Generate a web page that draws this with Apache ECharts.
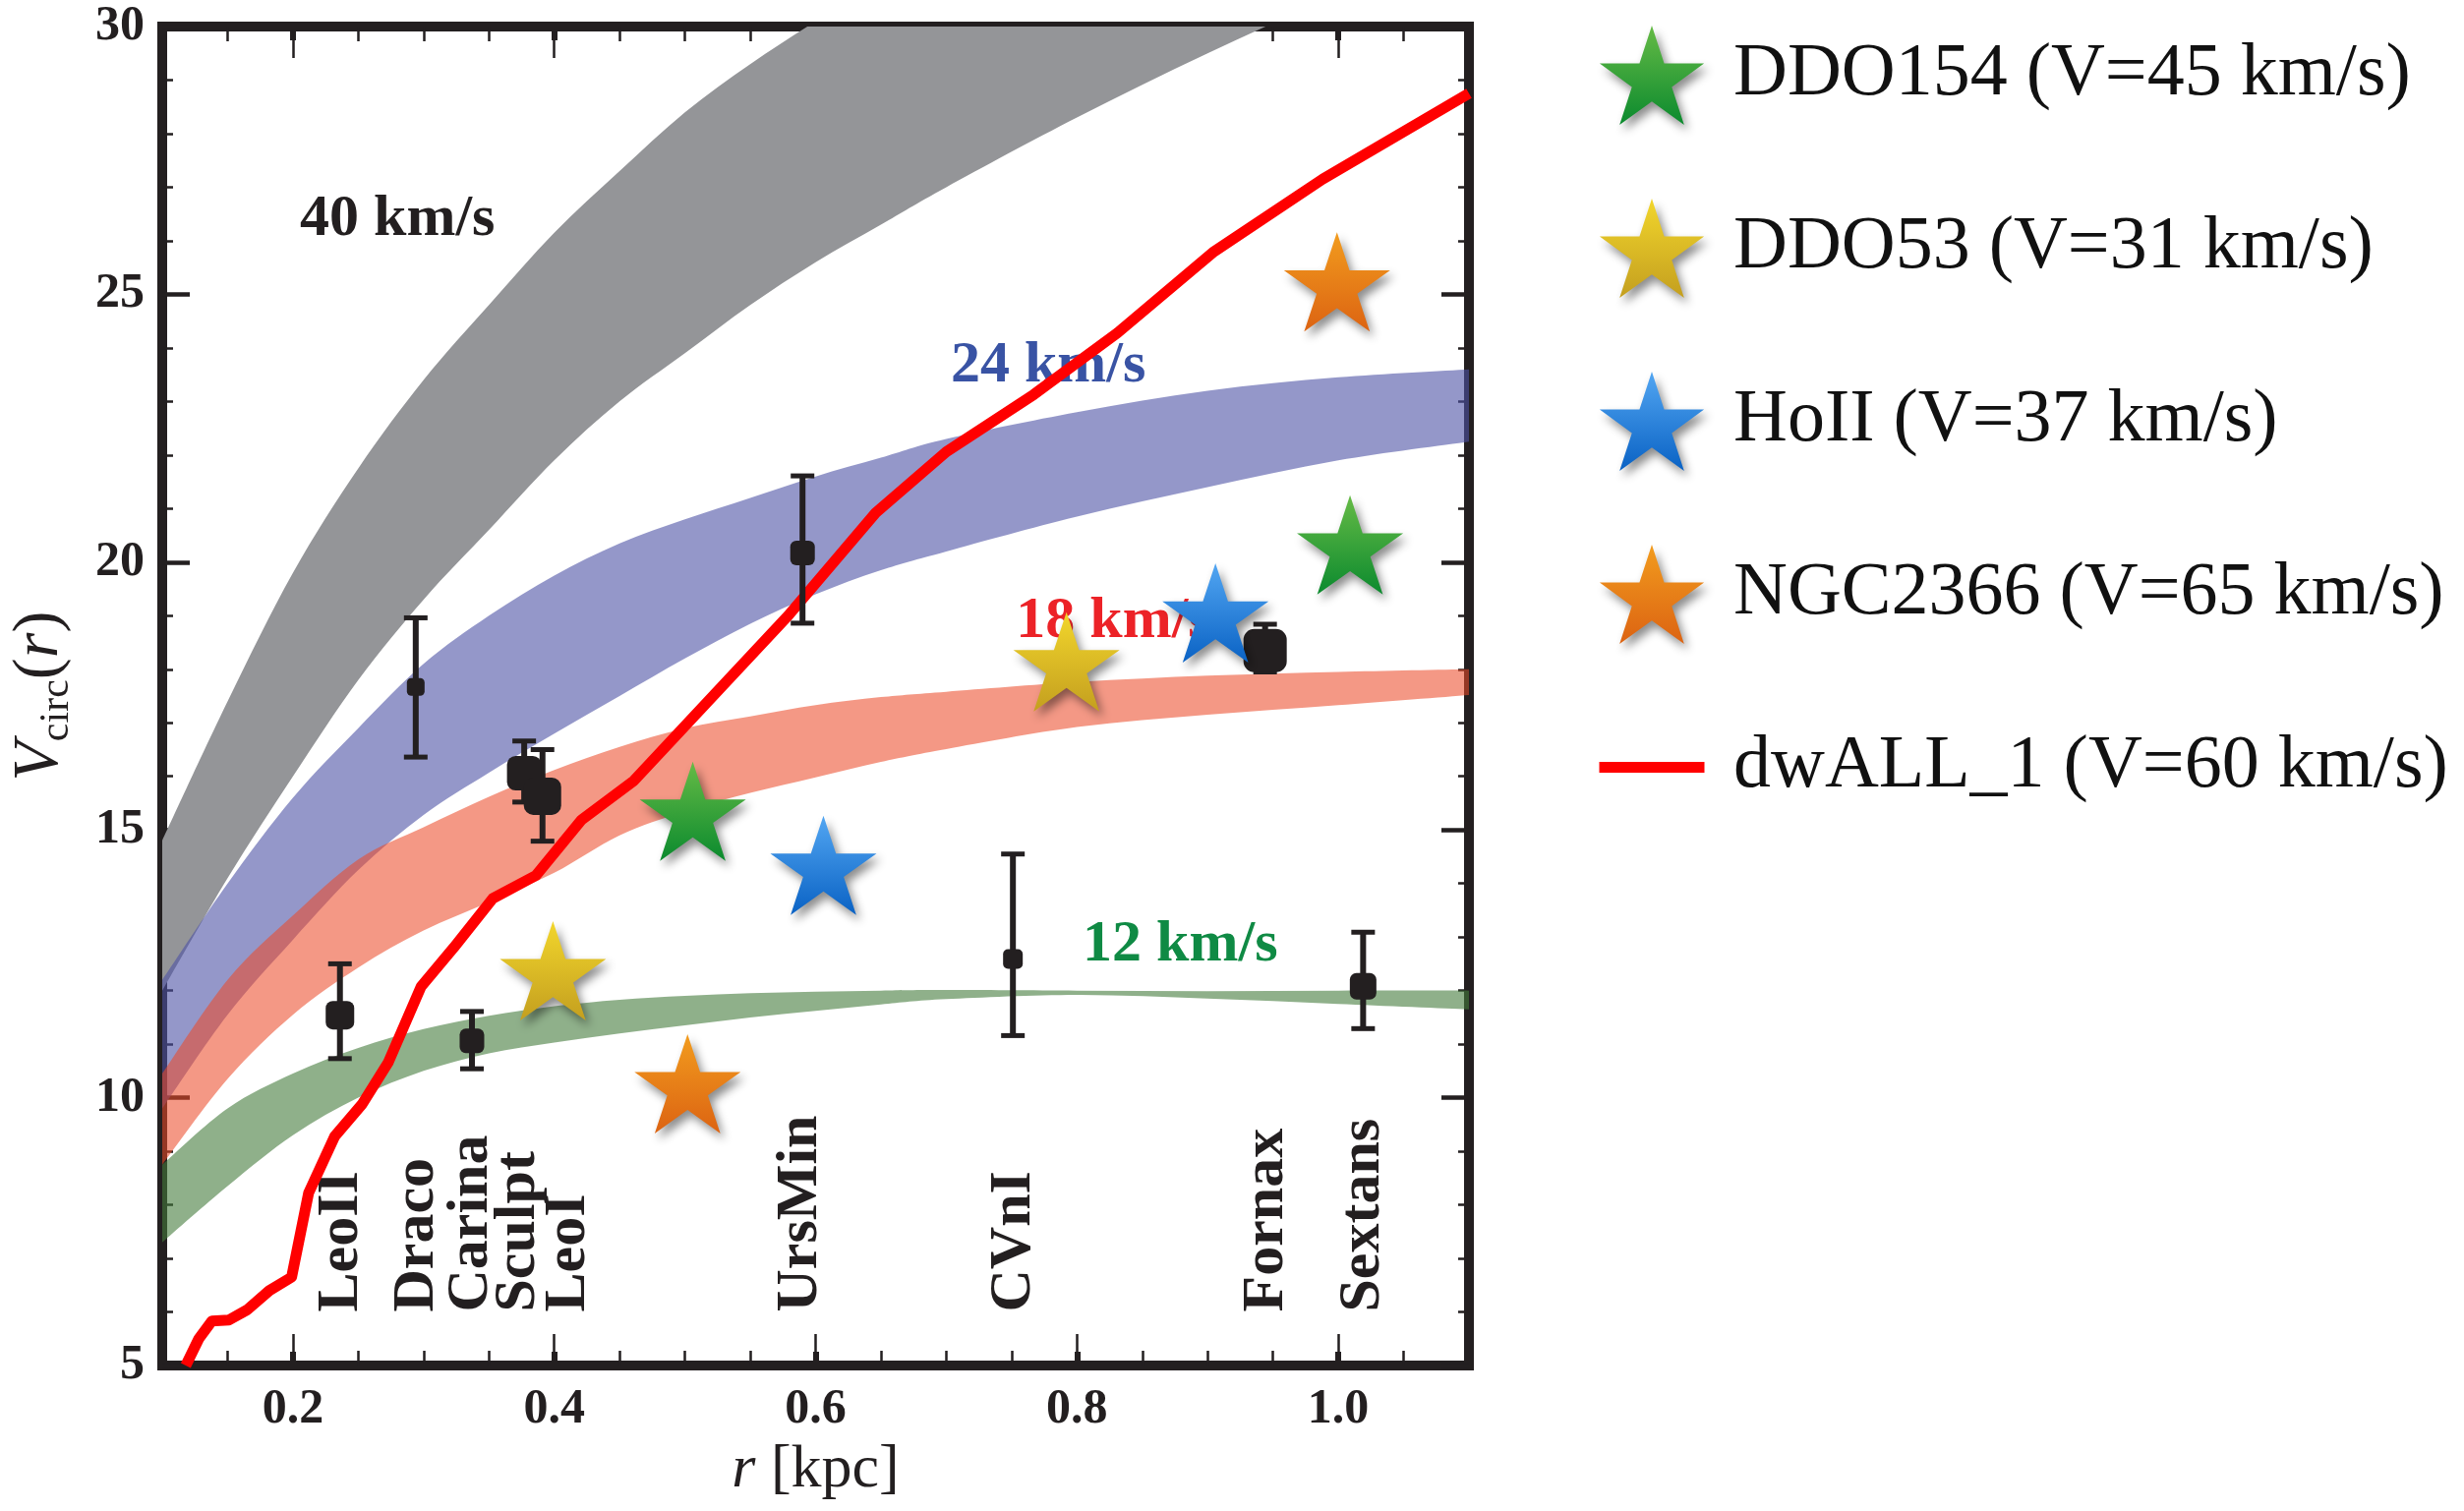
<!DOCTYPE html>
<html>
<head>
<meta charset="utf-8">
<script src="https://cdn.jsdelivr.net/npm/echarts@6/dist/echarts.min.js"></script>
<style>html,body{margin:0;padding:0;background:#fff;}#chart{width:2506px;height:1537px;}</style>
</head>
<body>
<div id="chart"></div>
<script>
// ================= DATA =================
// shaded bands: r [kpc] grid and lower/upper V_circ edges
const bandR   = [0.10,0.15,0.20,0.25,0.30,0.35,0.40,0.45,0.50,0.55,0.60,0.65,0.70,0.80,0.90,1.00,1.10];
const v40Lo   = [12.0,14.1,16.0,17.8,19.3,20.6,21.9,23.0,23.9,24.8,25.6,26.3,27.0,28.3,29.5,30.6,31.6];
const v40Hi   = [14.8,17.4,19.8,21.75,23.4,24.8,26.15,27.3,28.4,29.3,30.1,30.9,31.6,33.0,34.2,35.3,36.3];
const v24Lo   = [9.8,11.55,12.95,14.25,15.28,16.07,16.8,17.5,18.2,18.85,19.4,19.85,20.2,20.85,21.4,21.9,22.25];
const v24Hi   = [12.2,14.0,15.6,16.9,18.1,19.0,19.75,20.35,20.8,21.2,21.6,21.95,22.3,22.8,23.2,23.45,23.6];
const v18Lo   = [8.75,10.35,11.55,12.43,13.12,13.65,14.2,14.9,15.35,15.69,15.98,16.27,16.51,16.92,17.15,17.33,17.52];
const v18Hi   = [10.45,12.2,13.4,14.45,15.05,15.62,16.12,16.55,16.9,17.12,17.33,17.48,17.58,17.76,17.88,17.95,18.0];
const v12Lo   = [7.3,8.35,9.3,10.0,10.5,10.83,11.03,11.2,11.35,11.5,11.62,11.74,11.84,11.92,11.85,11.75,11.65];
const v12Hi   = [8.75,9.8,10.45,10.93,11.28,11.53,11.71,11.83,11.9,11.95,11.98,12.0,12.01,12.0,11.99,12.0,12.0];

// simulated dwarf curve dwALL_1
const curveR = [0.118,0.128,0.138,0.151,0.165,0.182,0.199,0.212,0.232,0.253,0.273,0.298,0.323,0.353,0.386,0.421,0.461,0.503,0.579,0.646,0.700,0.767,0.831,0.905,0.988,1.100];
const curveV = [5.0,5.5,5.83,5.85,6.04,6.4,6.65,8.22,9.28,9.88,10.66,12.07,12.8,13.72,14.15,15.19,15.92,17.02,19.0,20.92,22.06,23.13,24.28,25.8,27.15,28.75];

// Milky Way dwarf spheroidals with error bars
const galNames = ['LeoII','Draco','Carina','Sculpt','LeoI','UrsMin','CVnI','Fornax','Sextans'];
const galR     = [0.236,0.294,0.337,0.377,0.391,0.590,0.751,0.944,1.019];
const galV     = [11.54,17.67,11.06,16.06,15.63,20.17,12.59,18.35,12.08];
const galVlo   = [10.73,16.36,10.54,15.52,14.79,18.86,11.16,17.95,11.29];
const galVhi   = [12.50,18.96,11.61,16.66,16.50,21.61,14.55,18.84,13.09];
const galLabelR = [0.237,0.295,0.337,0.373,0.411,0.589,0.752,0.945,1.019];
const galLabelV = 6.0;

// field dwarfs (stars)
const ddo154R  = [0.506,1.009];  const ddo154V  = [15.35,20.32];
const ddo53R   = [0.399,0.792];  const ddo53V   = [12.37,18.14];
const hoIIR    = [0.606,0.906];  const hoIIV    = [14.34,19.05];
const ngc2366R = [0.502,0.999];  const ngc2366V = [10.26,25.23];

const legendNames = ['DDO154 (V=45 km/s)','DDO53 (V=31 km/s)','HoII (V=37 km/s)','NGC2366 (V=65 km/s)','dwALL_1 (V=60 km/s)'];

// band annotations
const annotText = ['40 km/s','24 km/s','18 km/s','12 km/s'];
const annotR    = [0.205,0.703,0.753,0.804];
const annotV    = [26.4,23.66,18.89,12.85];

// axis ticks
const xMajorTicks = [0.2,0.4,0.6,0.8,1.0];
const xMinorTicks = [0.15,0.25,0.3,0.35,0.45,0.5,0.55,0.65,0.7,0.75,0.85,0.9,0.95,1.05];

// ================= STYLE =================
const INK = '#231f20';
const SERIF = "'Liberation Serif','Times New Roman',serif";
const STAR = 'path://M50,0L61.23,34.55L97.55,34.55L68.17,55.9L79.39,90.45L50,69.1L20.61,90.45L31.83,55.9L2.45,34.55L38.77,34.55Z';
const LINEICON = 'path://M0,0M156,101M24.5,45H131.5V56H24.5Z';
const markerSizes = [29,18,25,35,38,25,20,44,27];
function grad(top, bottom) {
  return {type:'linear', x:0, y:0, x2:0, y2:1, colorStops:[{offset:0,color:top},{offset:1,color:bottom}]};
}
const starColors = [grad('#66bb46','#0b8a2e'), grad('#f2d62c','#c49f1f'), grad('#52a6f2','#0a62c4'), grad('#f29c1e','#dc6312')];
const starShadow = {shadowBlur:10, shadowColor:'rgba(0,0,0,0.45)', shadowOffsetX:4, shadowOffsetY:6};

// smooth (Catmull-Rom) path through pixel points obtained from the axes
function curveCmds(pts) {
  let d = '';
  const n = pts.length;
  for (let i = 0; i < n - 1; i++) {
    const p0 = pts[Math.max(i - 1, 0)], p1 = pts[i], p2 = pts[i + 1], p3 = pts[Math.min(i + 2, n - 1)];
    const c1x = p1[0] + (p2[0] - p0[0]) / 6, c1y = p1[1] + (p2[1] - p0[1]) / 6;
    const c2x = p2[0] - (p3[0] - p1[0]) / 6, c2y = p2[1] - (p3[1] - p1[1]) / 6;
    d += ' C' + c1x.toFixed(2) + ',' + c1y.toFixed(2) + ' ' + c2x.toFixed(2) + ',' + c2y.toFixed(2) + ' ' + p2[0].toFixed(2) + ',' + p2[1].toFixed(2);
  }
  return d;
}
function bandSeries(id, lo, hi, color) {
  return {
    type:'custom', name:id, z:1, silent:true, clip:true,
    data:bandR.map((r,i)=>[r, lo[i], hi[i]]),
    renderItem:function(params, api){
      if (params.dataIndex !== 0) return null;
      const up = bandR.map((r,i)=>api.coord([r, hi[i]]));
      const dn = bandR.map((r,i)=>api.coord([r, lo[i]])).reverse();
      const d = 'M' + up[0][0].toFixed(2) + ',' + up[0][1].toFixed(2) + curveCmds(up) +
                ' L' + dn[0][0].toFixed(2) + ',' + dn[0][1].toFixed(2) + curveCmds(dn) + ' Z';
      return {type:'path', shape:{pathData:d}, style:{fill:color, stroke:null}};
    }
  };
}
function starSeries(name, rs, vs, color) {
  return {type:'scatter', name:name, data:rs.map((r,i)=>[r, vs[i]]), symbol:STAR, symbolSize:[108,101],
    itemStyle:Object.assign({color:color, opacity:1}, starShadow), z:8, silent:true};
}

const axisLineStyle = {color:INK, width:10, cap:'square'};
const tickLabel = {fontFamily:SERIF, fontWeight:'bold', fontSize:50, color:INK};

const xBase = {type:'value', min:0.1, max:1.1, splitLine:{show:false}, gridIndex:0};
const yBase = {type:'value', min:5, max:30, interval:5, splitLine:{show:false}, gridIndex:0};
function xTickAxis(pos, values, len, width) {
  return Object.assign({}, xBase, {position:pos, axisLine:{show:false, onZero:false},
    axisTick:{inside:true, length:len, customValues:values, lineStyle:{color:INK, width:width}},
    axisLabel:{show:false}});
}

const option = {
  animation:false,
  backgroundColor:'#ffffff',
  grid:{left:164, right:1012, top:27, bottom:148, containLabel:false},
  xAxis:[
    Object.assign({}, xBase, {position:'bottom',
      axisLine:{onZero:false, lineStyle:axisLineStyle},
      axisTick:{inside:true, length:32, customValues:xMajorTicks, lineStyle:{color:INK, width:2.5}},
      axisLabel:Object.assign({customValues:xMajorTicks, margin:20, formatter:(v)=>Number(v).toFixed(1)}, tickLabel),
      name:'{i|r} [kpc]', nameLocation:'middle', nameGap:76,
      nameTextStyle:{fontFamily:SERIF, fontSize:62, color:INK, rich:{i:{fontFamily:SERIF, fontSize:62, fontStyle:'italic', color:INK}}}
    }),
    Object.assign({}, xBase, {position:'top',
      axisLine:{onZero:false, lineStyle:axisLineStyle},
      axisTick:{inside:true, length:32, customValues:xMajorTicks, lineStyle:{color:INK, width:2.5}},
      axisLabel:{show:false}}),
    xTickAxis('bottom', xMinorTicks, 15, 2.5),
    xTickAxis('top', xMinorTicks, 15, 2.5),
    xTickAxis('bottom', xMajorTicks, 14, 6),
    xTickAxis('top', xMajorTicks, 14, 6)
  ],
  yAxis:[
    Object.assign({}, yBase, {position:'left',
      axisLine:{onZero:false, lineStyle:axisLineStyle},
      axisTick:{inside:true, length:28, lineStyle:{color:INK, width:4.5}},
      minorTick:{show:true, splitNumber:5, length:11, lineStyle:{color:INK, width:2.5}},
      axisLabel:Object.assign({margin:18}, tickLabel),
      name:'{v|V}{s|circ}{p|(}{r|r}{p|)}', nameLocation:'middle', nameRotate:90, nameGap:86,
      nameTextStyle:{fontFamily:SERIF, color:INK, rich:{
        v:{fontFamily:SERIF, fontSize:66, fontStyle:'italic', color:INK, lineHeight:76},
        s:{fontFamily:SERIF, fontSize:42, color:INK, verticalAlign:'bottom', lineHeight:42},
        p:{fontFamily:SERIF, fontSize:66, color:INK, lineHeight:76},
        r:{fontFamily:SERIF, fontSize:66, fontStyle:'italic', color:INK, lineHeight:76}
      }}
    }),
    Object.assign({}, yBase, {position:'right',
      axisLine:{onZero:false, lineStyle:axisLineStyle},
      axisTick:{inside:true, length:28, lineStyle:{color:INK, width:4.5}},
      minorTick:{show:true, splitNumber:5, length:11, lineStyle:{color:INK, width:2.5}},
      axisLabel:{show:false}})
  ],
  legend:{
    orient:'vertical', left:1597, top:21, itemWidth:156, itemHeight:101, itemGap:75,
    selectedMode:false,
    textStyle:{fontFamily:SERIF, fontSize:76, color:'#111111'},
    data:legendNames.map((n,i)=> i<4
      ? {name:n, icon:STAR, itemStyle:Object.assign({opacity:1}, starShadow)}
      : {name:n, icon:LINEICON, itemStyle:{opacity:1}})
  },
  series:[
    bandSeries('b40', v40Lo, v40Hi, '#949598'),
    bandSeries('b24', v24Lo, v24Hi, 'rgba(77,82,165,0.6)'),
    bandSeries('b18', v18Lo, v18Hi, 'rgba(236,74,40,0.57)'),
    bandSeries('b12', v12Lo, v12Hi, 'rgba(68,123,60,0.6)'),
    {type:'scatter', name:'annotations', silent:true, z:3, symbolSize:1, itemStyle:{color:'rgba(0,0,0,0)', opacity:1},
     data:annotText.map((t,i)=>({value:[annotR[i], annotV[i]],
       label:{formatter:t, color:['#231f20','#3953a4','#ec2227','#0f8a44'][i]}})),
     label:{show:true, position:'right', distance:0, verticalAlign:'middle', opacity:1,
            fontFamily:SERIF, fontWeight:'bold', fontSize:60}},
    {type:'scatter', name:'galaxy names', silent:true, z:3, symbolSize:1, itemStyle:{color:'rgba(0,0,0,0)', opacity:1},
     data:galNames.map((n,i)=>({value:[galLabelR[i], galLabelV], label:{formatter:n}})),
     label:{show:true, position:'inside', rotate:90, align:'left', verticalAlign:'middle', opacity:1,
            fontFamily:SERIF, fontWeight:'bold', fontSize:60, color:INK}},
    {type:'line', name:legendNames[4], data:curveR.map((r,i)=>[r, curveV[i]]), symbol:'none',
     color:'#ff0000', lineStyle:{width:11, color:'#ff0000', join:'round'}, z:4, clip:true, silent:true},
    {type:'custom', name:'error bars', z:5, silent:true, clip:true,
     data:galR.map((r,i)=>[r, galV[i], galVlo[i], galVhi[i]]),
     renderItem:function(params, api){
       const x = api.value(0);
       const pL = api.coord([x, api.value(2)]);
       const pH = api.coord([x, api.value(3)]);
       const w = 12;
       const stem = {stroke:INK, lineWidth:6, fill:null};
       const cap = {stroke:INK, lineWidth:5, fill:null};
       return {type:'group', children:[
         {type:'line', shape:{x1:pL[0], y1:pL[1], x2:pH[0], y2:pH[1]}, style:stem},
         {type:'line', shape:{x1:pL[0]-w, y1:pL[1], x2:pL[0]+w, y2:pL[1]}, style:cap},
         {type:'line', shape:{x1:pH[0]-w, y1:pH[1], x2:pH[0]+w, y2:pH[1]}, style:cap}
       ]};
     }},
    {type:'scatter', name:'dSph', z:6, silent:true, symbol:'roundRect',
     symbolSize:function(val, params){ return markerSizes[params.dataIndex]; },
     itemStyle:{color:INK, opacity:1}, data:galR.map((r,i)=>[r, galV[i]])},
    starSeries(legendNames[0], ddo154R, ddo154V, starColors[0]),
    starSeries(legendNames[1], ddo53R, ddo53V, starColors[1]),
    starSeries(legendNames[2], hoIIR, hoIIV, starColors[2]),
    starSeries(legendNames[3], ngc2366R, ngc2366V, starColors[3])
  ]
};

const chart = echarts.init(document.getElementById('chart'), null, {renderer:'canvas'});
chart.setOption(option);
</script>
</body>
</html>
